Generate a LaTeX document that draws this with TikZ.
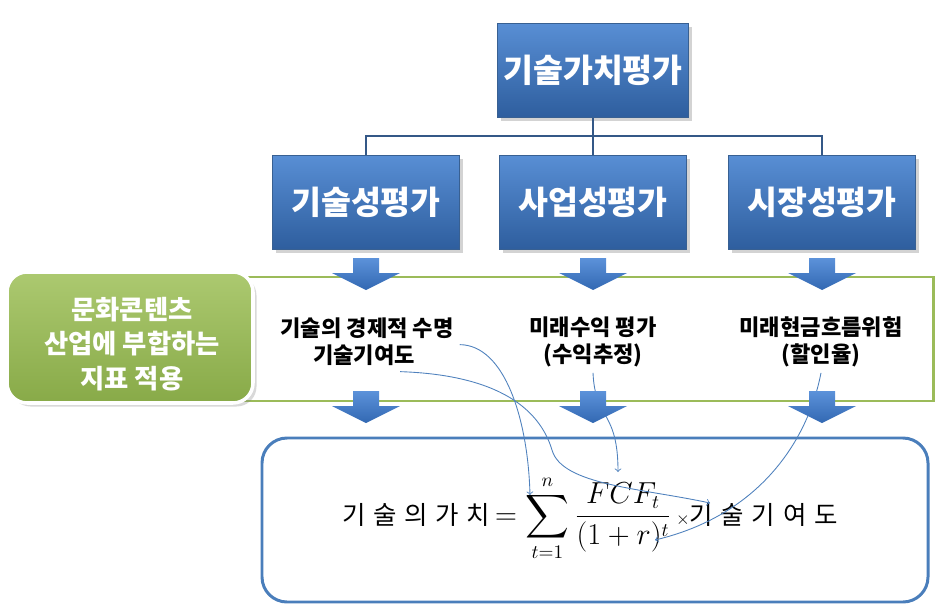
\documentclass[tikz,border=0pt]{standalone}
\usepackage{fontspec}
\usepackage{amsmath}
\usetikzlibrary{shadows}
\newfontfamily\kr{Noto Sans CJK KR}
\newfontfamily\krspaced[LetterSpace=30]{Noto Sans CJK KR}
\newcommand\formfont{\krspaced\fontsize{14.5}{17}\selectfont}
\definecolor{boxtop}{RGB}{88,142,212}
\definecolor{boxbot}{RGB}{46,94,158}
\definecolor{boxline}{RGB}{56,96,146}
\definecolor{treeline}{RGB}{52,88,135}
\definecolor{leafgreen}{RGB}{155,187,89}
\definecolor{leaftop}{RGB}{172,201,112}
\definecolor{leafbot}{RGB}{136,170,72}
\definecolor{frameblue}{RGB}{74,126,187}
\definecolor{flowblue}{RGB}{79,129,189}
\definecolor{arrowtop}{RGB}{92,146,218}
\definecolor{arrowbot}{RGB}{50,104,178}

\begin{document}
\begin{tikzpicture}[x=0.02cm, y=-0.02cm,
    evalbox/.style={draw=boxline, line width=0.6pt, top color=boxtop,
        bottom color=boxbot, minimum width=3.74cm, minimum height=1.88cm,
        text=white, font=\kr\bfseries\fontsize{18.5}{22}\selectfont,
        drop shadow={opacity=0.35, shadow xshift=2pt, shadow yshift=-2pt}},
    leafbox/.style={draw=white, line width=2pt, rounded corners=0.4cm,
        top color=leaftop, bottom color=leafbot,
        drop shadow={opacity=0.3, shadow xshift=2pt, shadow yshift=-2pt}},
    leaftext/.style={align=center, text=white,
        font=\kr\bfseries\fontsize{15}{19.5}\selectfont},
    bandtext/.style={align=center, font=\kr\bfseries\fontsize{12.6}{15.3}\selectfont},
    tree/.style={treeline, line width=1.3pt},
    flow/.style={flowblue, line width=0.5pt, ->},
    blockarrow/.style={top color=arrowtop, bottom color=arrowbot}]
    \useasboundingbox (0,0) rectangle (937,605);

    \draw [leafgreen, line width=1.7pt] (240,277) rectangle (933,401);
    \draw [frameblue, line width=1.7pt, rounded corners=0.5cm]
        (262,438) rectangle (928,602);
    \path [leafbox] (7,272) rectangle (253,403);
    \node[leaftext] (culture) at (132,344)
        {문화콘텐츠\\산업에 부합하는\\지표 적용};

    \node[evalbox] (value) at (593,70.5) {기술가치평가};
    \node[evalbox] (tech) at (366,202.5) {기술성평가};
    \node[evalbox] (business) at (593,202.5) {사업성평가};
    \node[evalbox] (market) at (822,202.5) {시장성평가};
    \draw [tree] (value.south) -- ++(0,18) -| (tech.north);
    \draw [tree] (value.south) -- ++(0,18) -| (market.north);
    \draw [tree] (value.south) -- (business.north);

    \node[bandtext] (life) at (367,328) {기술의 경제적 수명};
    \node[bandtext] (contrib) at (364,355) {기술기여도};
    \node[bandtext] (income) at (593,341.5) {미래수익 평가\\(수익추정)};
    \node[bandtext] (risk) at (821,341.5) {미래현금흐름위험\\(할인율)};

    \node[anchor=base, font=\fontsize{16}{19}\selectfont] (formula) at (590,524)
        {{\formfont 기술의가치}%
        $\displaystyle\,=\sum_{t=1}^{n}\frac{FCF_{t}}{(1+r)^{t}}$%
        \,{\fontsize{10}{12}\selectfont$\times$}%
        {\formfont 기술기여도}};
    \coordinate (sumtop) at (530,495);
    \coordinate (fcftop) at (618,472);
    \coordinate (timestip) at (710,503);
    \coordinate (denomtip) at (655,540);

    \draw [flow] (life.south east) .. controls (505,345) and (528,420) .. (sumtop);
    \draw [flow] ([xshift=-12pt]contrib.south east) .. controls (500,375) and
        (540,410) .. (552,450) .. controls (562,485) and (640,488) .. (timestip);
    \draw [flow] (income.south) .. controls (595,420) and (618,410) .. (fcftop);
    \draw [flow] (risk.south) .. controls (808,440) and (760,515) .. (denomtip);

    \foreach \cx in {366,593,822}
        \foreach \ty in {258,391}
            \path [blockarrow] (\cx-13,\ty) -- (\cx+13,\ty) -- (\cx+13,\ty+15)
                -- (\cx+34,\ty+15) -- (\cx,\ty+32) -- (\cx-34,\ty+15)
                -- (\cx-13,\ty+15) -- cycle;
\end{tikzpicture}
\end{document}
